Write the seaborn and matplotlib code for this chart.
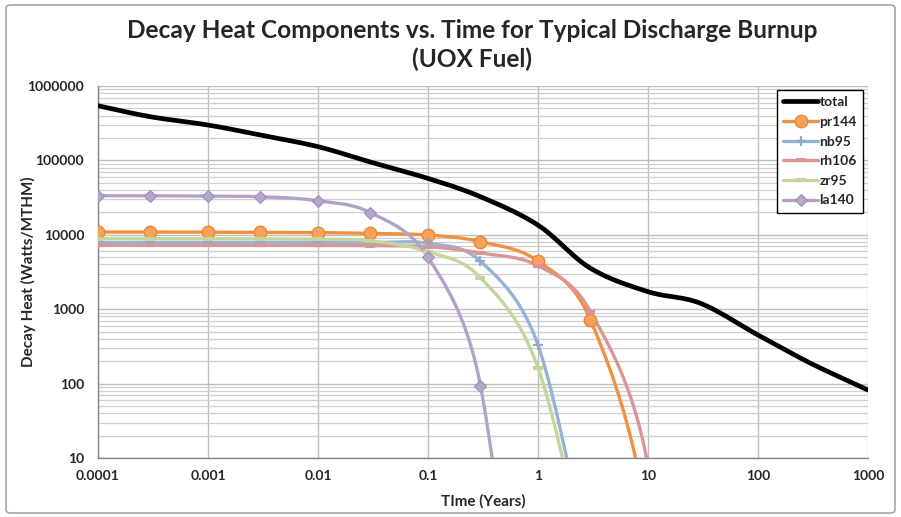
import numpy as np
import pandas as pd
import matplotlib
matplotlib.use("Agg")
import matplotlib.pyplot as plt
import seaborn as sns
from matplotlib.lines import Line2D
from matplotlib.patches import FancyBboxPatch
from matplotlib.ticker import LogLocator, NullFormatter, FixedLocator, FixedFormatter

# ---------------- data ----------------
time_years = [1e-4, 3e-4, 1e-3, 3e-3, 1e-2, 3e-2, 0.1, 0.3, 1, 3, 10, 30, 100, 300, 1000]
total = [543000, 386000, 299000, 219000, 153000, 95000, 57300, 32500, 13500, 3550, 1720, 1200, 450, 188, 82]
pr144 = [10900, 10900, 10850, 10800, 10700, 10450, 9930, 8080, 4450, 716, 1.4, 1e-6]
nb95 = [7900, 7900, 7900, 7900, 7880, 7850, 7690, 4400, 331, 0.3]
rh106 = [7230, 7230, 7230, 7220, 7200, 7150, 6920, 5700, 3850, 927, 8, 1e-5]
zr95 = [8870, 8870, 8850, 8800, 8700, 8300, 5930, 2650, 164, 0.2]
la140 = [33500, 33500, 33000, 32500, 28700, 19800, 4990, 94, 1e-4]

x_tick_vals = [1e-4, 1e-3, 1e-2, 1e-1, 1, 10, 100, 1000]
x_tick_labels = ["0.0001", "0.001", "0.01", "0.1", "1", "10", "100", "1000"]
y_tick_vals = [10, 100, 1000, 10000, 100000, 1000000]
y_tick_labels = ["10", "100", "1000", "10000", "100000", "1000000"]

title = "Decay Heat Components vs. Time for Typical Discharge Burnup\n(UOX Fuel)"
xlabel = "TIme (Years)"
ylabel = "Decay Heat (Watts/MTHM)"

series = [
    ("total", total, "#000000", 3.4, None),
    ("pr144", pr144, "#F0913F", 2.4, "o"),
    ("nb95", nb95, "#95B3D7", 2.4, "+"),
    ("rh106", rh106, "#D99694", 2.4, "_"),
    ("zr95", zr95, "#C3D69B", 2.4, "_"),
    ("la140", la140, "#B3A2C7", 2.4, "D"),
]

# ---------------- figure ----------------
sns.set_style("white")
plt.rcParams["font.family"] = ["Lato", "DejaVu Sans"]
plt.rcParams["font.weight"] = "bold"

W, H = 901, 517
fig = plt.figure(figsize=(W / 100, H / 100), dpi=100)
ax = fig.add_axes([98 / W, 1 - 458 / H, (868 - 98) / W, (458 - 86) / H])
ax.set_xscale("log")
ax.set_yscale("log")
XMIN, XMAX, YMIN, YMAX = 1e-4, 1e3, 10, 1e6
ax.set_xlim(XMIN, XMAX)
ax.set_ylim(YMIN, YMAX)

# pixel size of one decade on each axis (for Excel-like smoothing in screen space)
bbox = ax.get_window_extent()
sx = bbox.width / np.log10(XMAX / XMIN)
sy = bbox.height / np.log10(YMAX / YMIN)


def excel_smooth(xs, ys, n=40):
    P = np.column_stack([np.log10(xs) * sx, np.log10(ys) * sy])
    out = [P[0]]
    m = len(P)
    for i in range(m - 1):
        p0 = P[i - 1] if i > 0 else P[i]
        p1 = P[i]
        p2 = P[i + 1]
        p3 = P[i + 2] if i + 2 < m else P[i + 1]
        d12 = np.hypot(*(p2 - p1))
        d02 = np.hypot(*(p2 - p0))
        d13 = np.hypot(*(p3 - p1))
        f1 = 1 / 6
        f2 = 1 / 6
        if d02 / 6 >= d12 / 2 and d02 > 0:
            f1 = d12 / d02 / 2
        if d13 / 6 >= d12 / 2 and d13 > 0:
            f2 = d12 / d13 / 2
        c1 = p1 + f1 * (p2 - p0)
        c2 = p2 - f2 * (p3 - p1)
        t = np.linspace(0, 1, n)[1:, None]
        b = ((1 - t) ** 3) * p1 + 3 * ((1 - t) ** 2) * t * c1 + 3 * (1 - t) * t ** 2 * c2 + t ** 3 * p2
        out.extend(b)
    out = np.array(out)
    return 10 ** (out[:, 0] / sx), 10 ** (out[:, 1] / sy)


# grid
ax.yaxis.set_minor_locator(LogLocator(base=10, subs=np.arange(2, 10)))
ax.yaxis.set_minor_formatter(NullFormatter())
ax.xaxis.set_minor_locator(FixedLocator([]))
ax.grid(which="major", axis="both", color="#BDBDBD", lw=1.0)
ax.grid(which="minor", axis="y", color="#CFCFCF", lw=0.9)
ax.set_axisbelow(True)

handles = []
for name, vals, color, lw, marker in series:
    xs = np.array(time_years[: len(vals)], dtype=float)
    ys = np.array(vals, dtype=float)
    sxv, syv = excel_smooth(xs, ys)
    df = pd.DataFrame({"t": sxv, "v": syv})
    sns.lineplot(data=df, x="t", y="v", ax=ax, color=color, lw=lw, sort=False,
                 estimator=None, legend=False, zorder=3 if name != "total" else 4)
    mk = {}
    if marker == "o":
        mk = dict(marker="o", markersize=9, markerfacecolor="#F7A15A", markeredgecolor="#E5883A", markeredgewidth=1)
    elif marker == "D":
        mk = dict(marker="D", markersize=6.5, markerfacecolor="#B7A6CB", markeredgecolor="#A08CB8", markeredgewidth=0.8)
    elif marker == "+":
        mk = dict(marker="+", markersize=7, markeredgecolor="#8EA9CF", markeredgewidth=1.6)
    elif marker == "_":
        mk = dict(marker="_", markersize=7, markeredgecolor=color, markeredgewidth=3)
    if marker is not None:
        mdf = pd.DataFrame({"t": xs, "v": ys})
        mdf = mdf[(mdf.v >= YMIN) & (mdf.v <= YMAX)]
        ax.plot(mdf.t, mdf.v, linestyle="none", zorder=5, clip_on=True, **mk)
    handles.append(Line2D([0], [0], color=color, lw=lw, **mk))

# ticks & labels
ax.xaxis.set_major_locator(FixedLocator(x_tick_vals))
ax.xaxis.set_major_formatter(FixedFormatter(x_tick_labels))
ax.yaxis.set_major_locator(FixedLocator(y_tick_vals))
ax.yaxis.set_major_formatter(FixedFormatter(y_tick_labels))
ax.tick_params(axis="y", which="major", length=4, width=1, color="#868686", pad=6, labelsize=10)
ax.tick_params(axis="y", which="minor", length=0)
ax.tick_params(axis="x", which="major", length=0, pad=9, labelsize=10)
for lab in ax.get_xticklabels() + ax.get_yticklabels():
    lab.set_fontweight("bold")

for s in ["top", "right"]:
    ax.spines[s].set_visible(False)
for s in ["left", "bottom"]:
    ax.spines[s].set_color("#868686")
    ax.spines[s].set_linewidth(1)

ax.set_xlabel(xlabel, fontsize=11, fontweight="bold", labelpad=8)
ax.set_ylabel(ylabel, fontsize=11, fontweight="bold")
ax.yaxis.set_label_coords((36 - 98) / (868 - 98), 0.5)

fig.text(472 / W, 1 - 45 / H, title, ha="center", va="center", fontsize=17.6,
         fontweight="bold", linespacing=1.3)

leg = fig.legend(handles, [s[0] for s in series], loc="upper left",
                 bbox_to_anchor=(777 / W, 1 - 90 / H), bbox_transform=fig.transFigure,
                 frameon=True, fancybox=False, edgecolor="black", framealpha=1,
                 prop={"weight": "bold", "size": 10}, handlelength=2.5,
                 handletextpad=0.1, labelspacing=0.55, borderpad=0.45, borderaxespad=0)
leg.get_frame().set_linewidth(1)

# chart-area border
fig.patches.append(FancyBboxPatch((6 / W, 4 / H), (895 - 6) / W, (512 - 4) / H,
                                  boxstyle="round,pad=0,rounding_size=0.006",
                                  transform=fig.transFigure, fc="none", ec="#A6A6A6", lw=1.2))

fig.savefig("out.png", dpi=100)
